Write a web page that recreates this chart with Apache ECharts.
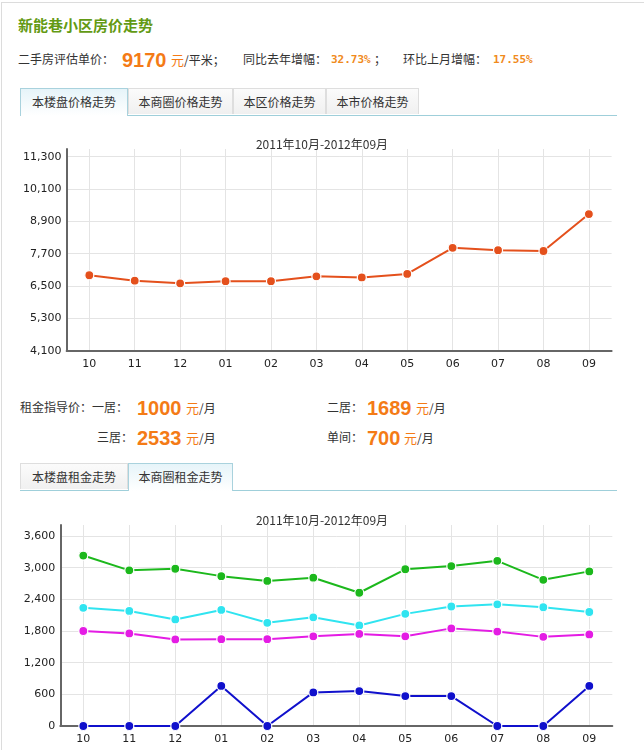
<!DOCTYPE html>
<html>
<head>
<meta charset="utf-8">
<script src="https://cdn.jsdelivr.net/npm/echarts@6/dist/echarts.min.js"></script>
<style>
  html, body { margin: 0; padding: 0; background: #fff; }
  body { width: 644px; height: 750px; position: relative; overflow: hidden;
         font-family: "Noto Sans CJK SC", "DejaVu Sans", sans-serif; font-size: 12px; color: #333; }
  .frame { position: absolute; left: 1px; top: 2px; width: 700px; height: 800px;
           border-top: 1px solid #dcdcdc; border-left: 1px solid #dcdcdc; }
  .abs { position: absolute; white-space: nowrap; line-height: 1; }
  .title { left: 18px; top: 17px; font-size: 15px; font-weight: bold; color: #639a14; }
  .big { font-family: "Liberation Sans", Arial, sans-serif; font-weight: bold; font-size: 20px; color: #f47b16; }
  .yuan { color: #f47b16; font-size: 13px; }
  .pct { font-family: "DejaVu Sans Mono", monospace; font-weight: bold; font-size: 11px; color: #f08a1c; }
  .tabs { position: absolute; left: 20px; width: 597px; height: 27px; border-bottom: 1px solid #9fcfda; }
  .tab { position: absolute; top: 0; height: 26px; line-height: 26px; text-align: center; font-size: 12px; color: #333;
         box-sizing: border-box; border: 1px solid #dedede; border-bottom: none;
         background: linear-gradient(#fbfbfb, #f0f0f0); }
  .tab.on { border: 1px solid #a9d2dd; border-bottom: none; height: 28px;
            background: linear-gradient(#e6f4f9, #ffffff); }
  #c1 { position: absolute; left: 0; top: 125px; width: 644px; height: 250px; }
  #c2 { position: absolute; left: 0; top: 500px; width: 644px; height: 250px; }
</style>
</head>
<body>
<div class="frame"></div>
<div class="abs title">新能巷小区房价走势</div>

<div class="abs" style="left:18px; top:53px;">二手房评估单价：</div>
<div class="abs big" style="left:122px; top:50px;">9170</div>
<div class="abs" style="left:171px; top:53px;"><span class="yuan">元</span>/平米；</div>
<div class="abs" style="left:243px; top:53px;">同比去年增幅：</div>
<div class="abs pct" style="left:331px; top:54px;">32.73%</div>
<div class="abs" style="left:374px; top:53px;">；</div>
<div class="abs" style="left:403px; top:53px;">环比上月增幅：</div>
<div class="abs pct" style="left:493px; top:54px;">17.55%</div>

<div class="tabs" style="top:88px;">
  <div class="tab on" style="left:0; width:108px;">本楼盘价格走势</div>
  <div class="tab" style="left:108px; width:105px;">本商圈价格走势</div>
  <div class="tab" style="left:213px; width:93px;">本区价格走势</div>
  <div class="tab" style="left:306px; width:93px;">本市价格走势</div>
</div>

<div id="c1"></div>

<div class="abs" style="left:20px; top:401px;">租金指导价：一居：</div>
<div class="abs big" style="left:137px; top:398px;">1000</div>
<div class="abs" style="left:186px; top:401px;"><span class="yuan">元</span>/月</div>
<div class="abs" style="left:327px; top:401px;">二居：</div>
<div class="abs big" style="left:367px; top:398px;">1689</div>
<div class="abs" style="left:416px; top:401px;"><span class="yuan">元</span>/月</div>

<div class="abs" style="left:97px; top:431px;">三居：</div>
<div class="abs big" style="left:137px; top:428px;">2533</div>
<div class="abs" style="left:186px; top:431px;"><span class="yuan">元</span>/月</div>
<div class="abs" style="left:327px; top:431px;">单间：</div>
<div class="abs big" style="left:367px; top:428px;">700</div>
<div class="abs" style="left:404px; top:431px;"><span class="yuan">元</span>/月</div>

<div class="tabs" style="top:463px;">
  <div class="tab" style="left:0; width:108px;">本楼盘租金走势</div>
  <div class="tab on" style="left:108px; width:105px;">本商圈租金走势</div>
</div>

<div id="c2"></div>

<script>
// ---- data ----
const months = ['10', '11', '12', '01', '02', '03', '04', '05', '06', '07', '08', '09'];
const periodTitle = '2011年10月-2012年09月';
const priceValues = [6900, 6700, 6600, 6680, 6680, 6860, 6820, 6950, 7920, 7830, 7800, 9170];
const rentGreen = [3230, 2950, 2980, 2840, 2750, 2810, 2525, 2970, 3030, 3130, 2770, 2930];
const rentCyan = [2240, 2180, 2020, 2200, 1955, 2060, 1905, 2125, 2265, 2305, 2250, 2160];
const rentMagenta = [1800, 1755, 1640, 1645, 1645, 1700, 1745, 1700, 1850, 1790, 1689, 1735];
const rentBlue = [0, 0, 0, 760, 0, 637, 662, 567, 567, 0, 0, 760];

const labelFont = { fontFamily: 'DejaVu Sans, Verdana, sans-serif', fontSize: 11, color: '#222' };

function baseOption(cfg) {
  return {
    animation: false,
    title: {
      text: periodTitle, left: 'center', top: cfg.titleTop,
      textStyle: { fontFamily: 'Noto Sans CJK SC', fontSize: 12, fontWeight: 'normal', color: '#333' }
    },
    grid: { left: cfg.left, right: cfg.right, top: cfg.top, bottom: cfg.bottom, containLabel: false },
    xAxis: {
      type: 'category', data: months, boundaryGap: true,
      axisLine: { lineStyle: { color: '#666', width: 2 } },
      axisTick: { show: false },
      axisLabel: Object.assign({ margin: 8 }, labelFont),
      splitLine: { show: true, alignWithLabel: true, lineStyle: { color: '#e4e4e4', width: 1 } }
    },
    yAxis: {
      type: 'value', min: cfg.min, max: cfg.max, interval: cfg.interval,
      axisLine: { show: true, lineStyle: { color: '#666', width: 2 } },
      axisTick: { show: false },
      axisLabel: Object.assign({ margin: 5, showMaxLabel: false,
        formatter: v => v.toLocaleString('en-US') }, labelFont),
      splitLine: { show: true, showMaxLine: false, lineStyle: { color: '#e4e4e4', width: 1 } }
    },
    series: []
  };
}

function lineSeries(name, data, color) {
  return {
    name, type: 'line', data,
    symbol: 'circle', symbolSize: 9,
    lineStyle: { color, width: 2 },
    itemStyle: { color, borderColor: '#fff', borderWidth: 1.2 },
    emphasis: { disabled: true }
  };
}

const c1 = echarts.init(document.getElementById('c1'));
const o1 = baseOption({ titleTop: 8, left: 66.6, right: 32.4, top: 24, bottom: 24.3,
                        min: 4100, max: 11586, interval: 1200 });
o1.series.push(lineSeries('房价', priceValues, '#e4501c'));
c1.setOption(o1);

const c2 = echarts.init(document.getElementById('c2'));
const o2 = baseOption({ titleTop: 9, left: 60.3, right: 31.7, top: 25, bottom: 24,
                        min: 0, max: 3809, interval: 600 });
o2.series.push(lineSeries('租金A', rentGreen, '#1cb81c'));
o2.series.push(lineSeries('租金B', rentCyan, '#30e4f0'));
o2.series.push(lineSeries('租金C', rentMagenta, '#e41ce4'));
o2.series.push(lineSeries('租金D', rentBlue, '#1010cc'));
c2.setOption(o2);
</script>
</body>
</html>
